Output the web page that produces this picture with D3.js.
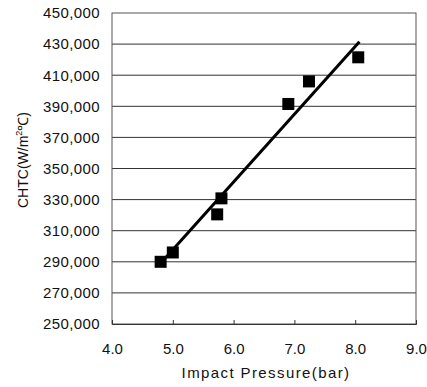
<!DOCTYPE html>
<html>
<head>
<meta charset="utf-8">
<script src="https://cdn.jsdelivr.net/npm/d3@7"></script>
<style>
  body { margin: 0; background: #fff; }
  text { font-family: "Liberation Sans", Arial, sans-serif; fill: #111; }
</style>
</head>
<body>
<div id="chart"></div>
<script>
// measured points
const pressure = [4.8, 5.0, 5.73, 5.8, 6.9, 7.24, 8.05];
const chtc = [290000, 296000, 320500, 330800, 391500, 406000, 421500];
// regression line ends
const fitX = [4.8, 8.07];
const fitY = [289000, 431500];
const xTicks = [4, 5, 6, 7, 8, 9];
const yTicks = [250000, 270000, 290000, 310000, 330000, 350000, 370000, 390000, 410000, 430000, 450000];

const width = 427, height = 387;
const margin = { top: 13, right: 11, bottom: 63, left: 112 };

const svg = d3.select("#chart").append("svg")
  .attr("width", width)
  .attr("height", height);

const x = d3.scaleLinear().domain([4, 9]).range([margin.left, width - margin.right]);
const y = d3.scaleLinear().domain([250000, 450000]).range([height - margin.bottom, margin.top]);

// grid lines
svg.append("g")
  .selectAll("line")
  .data(yTicks.slice(1, -1))
  .enter().append("line")
  .attr("x1", x(4)).attr("x2", x(9))
  .attr("y1", d => y(d)).attr("y2", d => y(d))
  .style("stroke", "#333")
  .style("stroke-width", 1);

// plot frame
svg.append("rect")
  .attr("x", x(4)).attr("y", y(450000))
  .attr("width", x(9) - x(4)).attr("height", y(250000) - y(450000))
  .style("fill", "none")
  .style("stroke", "#555")
  .style("stroke-width", 1);

// y axis labels
const fmt = d3.format(",");
svg.append("g")
  .attr("transform", `translate(${margin.left},0)`)
  .call(d3.axisLeft(y).tickValues(yTicks).tickFormat(fmt).tickSize(0).tickPadding(12))
  .call(g => g.select(".domain").remove())
  .selectAll("text")
  .style("font-size", "15px")
  .style("letter-spacing", "0.4px")
  .style("font-family", "Liberation Sans, Arial, sans-serif")
  .style("fill", "#111");

// x axis (ticks pointing inward)
svg.append("g")
  .attr("transform", `translate(0,${height - margin.bottom})`)
  .call(d3.axisBottom(x).tickValues(xTicks).tickFormat(d3.format(".1f")).tickSize(-4).tickPadding(19))
  .call(g => g.select(".domain").style("stroke", "#333"))
  .call(g => g.selectAll(".tick line").style("stroke", "#333"))
  .selectAll("text")
  .style("font-size", "15px")
  .style("font-family", "Liberation Sans, Arial, sans-serif")
  .style("fill", "#111");

// fit line
const line = d3.line().x(d => x(d[0])).y(d => y(d[1]));
svg.append("path")
  .datum(fitX.map((v, i) => [v, fitY[i]]))
  .attr("d", line)
  .style("fill", "none")
  .style("stroke", "#000")
  .style("stroke-width", 3);

// markers
const s = 12;
svg.append("g")
  .selectAll("rect")
  .data(pressure.map((v, i) => [v, chtc[i]]))
  .enter().append("rect")
  .attr("x", d => x(d[0]) - s / 2)
  .attr("y", d => y(d[1]) - s / 2)
  .attr("width", s).attr("height", s)
  .style("fill", "#000");

// axis titles
svg.append("text")
  .attr("x", 266).attr("y", 378)
  .attr("text-anchor", "middle")
  .style("font-size", "15px")
  .style("letter-spacing", "1.4px")
  .text("Impact Pressure(bar)");

svg.append("text")
  .attr("transform", "translate(28,160) rotate(-90)")
  .attr("text-anchor", "middle")
  .style("font-size", "14px")
  .html('CHTC(W/m<tspan dy="-6" font-size="9">2</tspan><tspan dy="6">℃)</tspan>');
</script>
</body>
</html>
